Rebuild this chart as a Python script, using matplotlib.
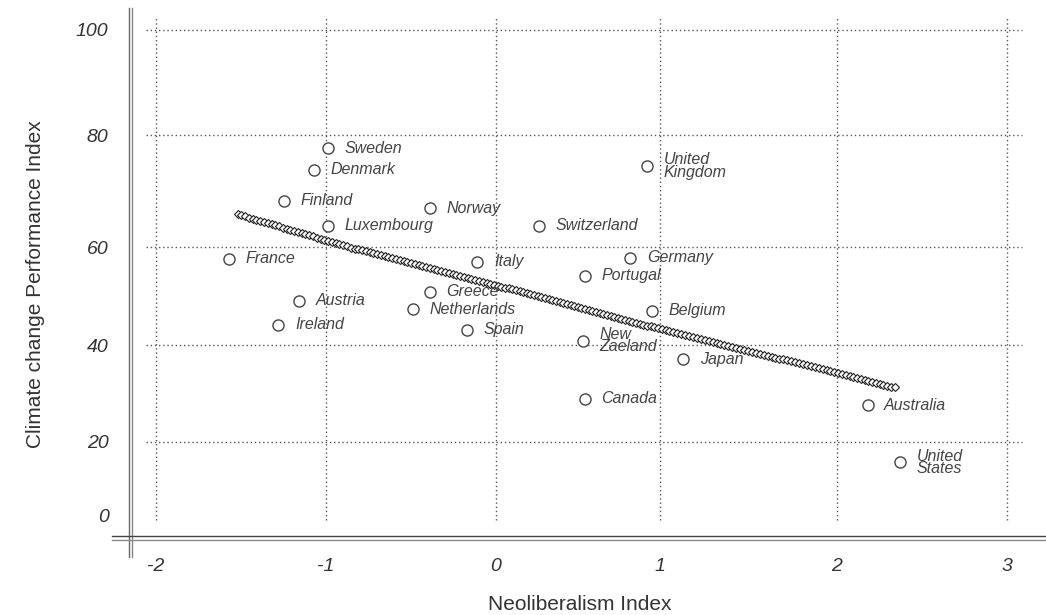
import numpy as np
import matplotlib
matplotlib.use('Agg')
import matplotlib.pyplot as plt
from matplotlib.lines import Line2D

# data
countries = ['Sweden', 'Denmark', 'Finland', 'Norway', 'Luxembourg', 'Switzerland',
             'United\nKingdom', 'France', 'Italy', 'Germany', 'Portugal', 'Greece',
             'Austria', 'Netherlands', 'Belgium', 'Ireland', 'Spain', 'New\nZaeland',
             'Japan', 'Canada', 'Australia', 'United\nStates']
neoliberalism = [-0.99, -1.07, -1.25, -0.39, -0.99, 0.26,
                 0.92, -1.57, -0.11, 0.82, 0.54, -0.39,
                 -1.16, -0.49, 0.95, -1.28, -0.17, 0.53,
                 1.13, 0.54, 2.18, 2.37]
ccpi = [77.6, 73.8, 68.3, 66.9, 63.8, 63.8,
        74.5, 57.6, 57.0, 57.8, 54.1, 50.9,
        49.0, 47.3, 47.0, 44.1, 43.1, 40.9,
        37.1, 28.9, 27.6, 14.5]

x_ticks = [-2, -1, 0, 1, 2, 3]
y_ticks = [0, 20, 40, 60, 80, 100]
y_grid = [20, 40, 60, 80, 100]

# the original axes are not evenly spaced: pixel position of each tick value
x_knots = np.array([-3, -2, -1, 0, 1, 2, 3, 4])
x_pix = np.array([-14, 156, 326, 496, 660, 837, 1007, 1177])
y_knots = np.array([-20, 0, 20, 40, 60, 80, 100, 120])
y_pix = -np.array([592, 516, 442, 345, 247, 135, 30, -75])

W, H = 1046, 615
fig = plt.figure(figsize=(W / 100, H / 100), dpi=100)
ax = fig.add_axes([128 / W, (H - 537) / H, 918 / W, 529 / H])

ax.set_xscale('function', functions=(lambda v: np.interp(v, x_knots, x_pix),
                                     lambda v: np.interp(v, x_pix, x_knots)))
ax.set_yscale('function', functions=(lambda v: np.interp(v, y_knots, y_pix),
                                     lambda v: np.interp(v, y_pix, y_knots)))
ax.set_xlim(np.interp(128, x_pix, x_knots), np.interp(1046, x_pix, x_knots))
ax.set_ylim(np.interp(-537, y_pix, y_knots), np.interp(-8, y_pix, y_knots))

# dotted grid
grid_kw = dict(colors='#555555', linestyles=(0, (1, 2)), linewidth=1.0, zorder=1)
ax.hlines(y_grid, -2.06, 3.09, **grid_kw)
ax.vlines(x_ticks, -1.0, 102.7, **grid_kw)

# trend line (least squares fit), drawn as a chain of small diamonds
x = np.array(neoliberalism)
y = np.array(ccpi)
coef = np.polyfit(x, y, 1)
xs = np.linspace(x.min() + 0.05, x.max() - 0.03, 175)
ax.plot(xs, np.polyval(coef, xs), linestyle='none', marker='D', markersize=3.8,
        markerfacecolor='white', markeredgecolor='#222222', markeredgewidth=0.8, zorder=2)

ax.scatter(x, y, s=64, facecolors='white', edgecolors='#444444', linewidths=1.0, zorder=3)
for name, xi, yi in zip(countries, x, y):
    ax.annotate(name, (xi, yi), xytext=(12, 0), textcoords='offset points',
                ha='left', va='center', fontsize=11.5, fontstyle='italic',
                color='#444444', linespacing=0.8, family='Liberation Sans', zorder=4)

ax.set_xticks(x_ticks)
ax.set_xticklabels([str(t) for t in x_ticks])
ax.set_yticks(y_ticks)
ax.set_yticklabels([str(t) for t in y_ticks])
ax.tick_params(length=0, labelsize=14, labelcolor='#333333')
ax.tick_params(axis='x', pad=15)
ax.tick_params(axis='y', pad=14)
for lab in ax.get_xticklabels() + ax.get_yticklabels():
    lab.set_fontstyle('italic')
    lab.set_family('Liberation Sans')

for s in ax.spines.values():
    s.set_visible(False)

ax.set_xlabel('Neoliberalism Index', fontsize=15, color='#333333',
              family='Liberation Sans', va='center')
ax.xaxis.set_label_coords((580 - 128) / 918, -(604 - 537) / 529)
ax.set_ylabel('Climate change Performance Index', fontsize=15, color='#333333',
              family='Liberation Sans', va='center')
ax.yaxis.set_label_coords((36 - 128) / 918, (537 - 284) / 529)

# double axis lines
def px_line(x0, y0, x1, y1, color):
    fig.add_artist(Line2D([x0 / 100, x1 / 100], [(H - y0) / 100, (H - y1) / 100],
                          transform=fig.dpi_scale_trans, color=color, linewidth=1.0))

px_line(128.5, 8, 128.5, 557, '#666666')
px_line(131.5, 8, 131.5, 557, '#888888')
px_line(112, 535.5, 1046, 535.5, '#444444')
px_line(112, 539.5, 1046, 539.5, '#888888')

fig.savefig('out.png', dpi=100)
